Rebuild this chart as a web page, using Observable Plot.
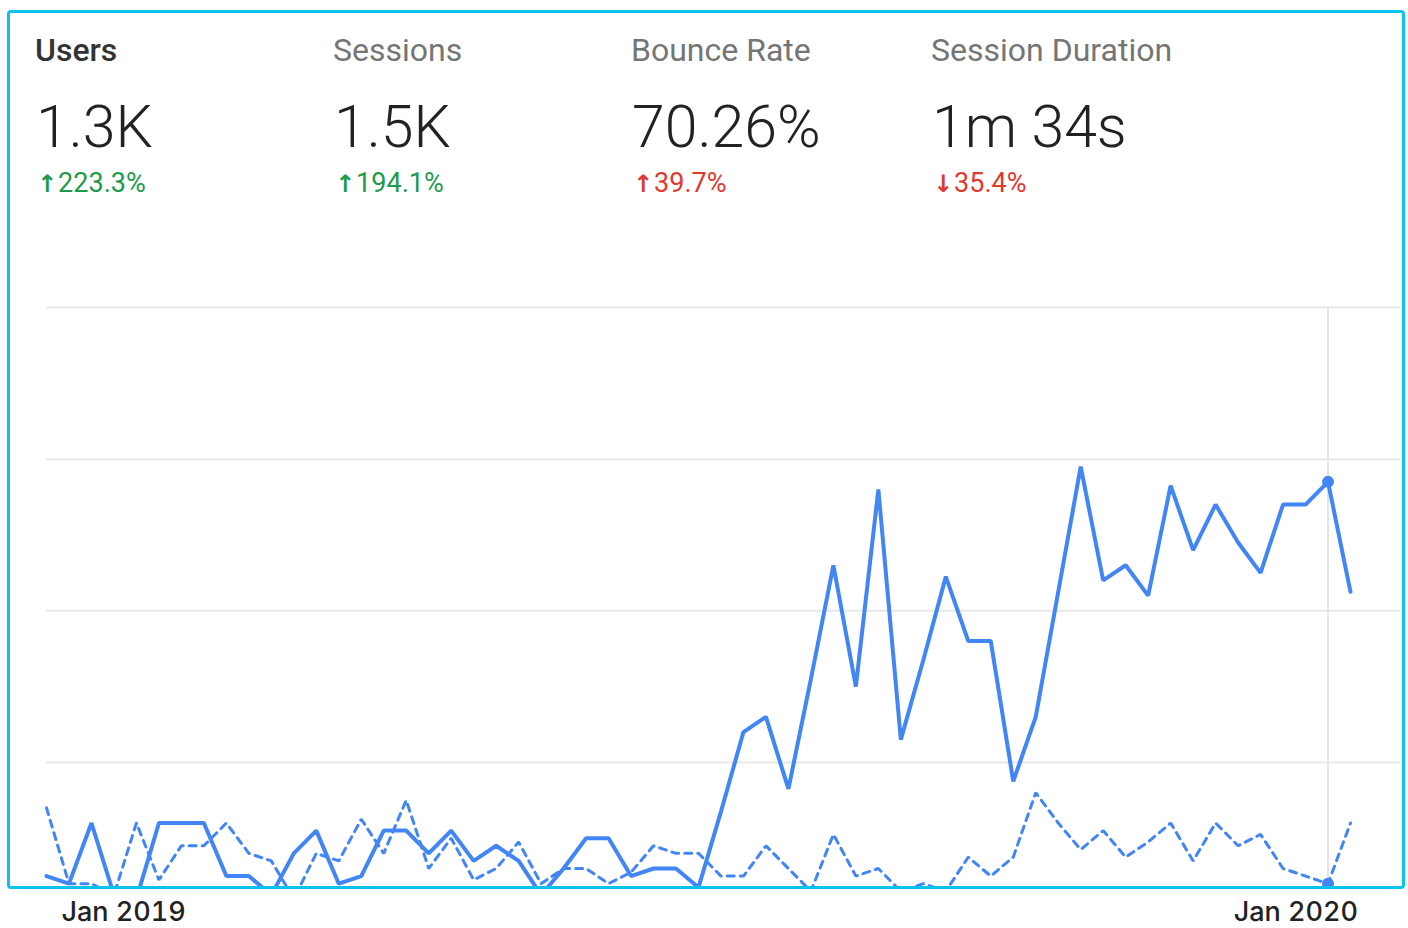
<!DOCTYPE html>
<html>
<head>
<meta charset="utf-8">
<script src="https://cdn.jsdelivr.net/npm/d3@7"></script>
<script src="https://cdn.jsdelivr.net/npm/@observablehq/plot@0.6"></script>
<style>
  html, body { margin: 0; padding: 0; background: #fff; }
  #wrap { position: relative; width: 1408px; height: 928px; overflow: hidden; font-family: Roboto, "Noto Sans", sans-serif; }
  #chart, #axis { position: absolute; left: 0; }
  #chart { top: 0; }
  #axis { top: 886px; }
  .txt { position: absolute; white-space: nowrap; line-height: 1; }
  .label { font-size: 32px; color: #757575; font-weight: 400; }
  .label.active { color: #333; font-weight: 500; }
  .value { font-size: 59px; color: #222; font-weight: 300; }
  .change { font-size: 27px; font-weight: 400; }
  .arrow { font-family: "DejaVu Sans", sans-serif; font-weight: 700; font-size: 24px; margin-right: 1px; }
  #frame { position: absolute; left: 7px; top: 10px; width: 1398px; height: 879px; box-sizing: border-box;
           border: 3px solid #0bc3ec; border-radius: 4px; pointer-events: none; }
</style>
</head>
<body>
<div id="wrap">
  <div id="chart"></div>
  <div id="axis"></div>
  <div id="header"></div>
  <div id="frame"></div>
</div>
<script>
// ---- header metrics ----
const metricNames   = ["Users", "Sessions", "Bounce Rate", "Session Duration"];
const metricValues  = ["1.3K", "1.5K", "70.26%", "1m 34s"];
const metricChanges = ["223.3%", "194.1%", "39.7%", "35.4%"];
const changeArrows  = ["↑", "↑", "↑", "↓"];
const changeGood    = [true, true, false, false];
const activeMetric  = 0;

// ---- weekly series ----
const firstWeek = "2018-12-08";
const users = [10, 8, 24, 5, 4, 24, 24, 24, 10, 10,
               5, 16, 22, 8, 10, 22, 22, 16, 22, 14,
               18, 14, 5, 12, 20, 20, 10, 12, 12, 7,
               27, 48, 52, 33, 62, 92, 60, 112, 46, 67,
               89, 72, 72, 35, 52, 85, 118, 88, 92, 84,
               113, 96, 108, 98, 90, 108, 108, 114, 85];
const usersPrevious = [28, 8, 8, 5, 24, 9, 18, 18, 24, 16,
                       14, 4, 16, 14, 25, 16, 30, 12, 20, 9,
                       12, 19, 8, 12, 12, 8, 11, 18, 16, 16,
                       10, 10, 18, 12, 6, 21, 10, 12, 6, 8,
                       6, 15, 10, 15, 32, 24, 17, 22, 15, 19,
                       24, 14, 24, 18, 21, 12, 10, 8, 24];
const gridValues = [40, 80, 120, 160];
const yMax = 160;
const tickLabels = ["2019-01-01", "2020-01-01"];
const hoverIndex = 57;

// ---- header ----
const header = document.getElementById("header");
const colX = [35, 333, 631, 931];
metricNames.forEach((name, i) => {
  const l = document.createElement("div");
  l.className = "txt label" + (i === activeMetric ? " active" : "");
  l.style.left = colX[i] + "px"; l.style.top = "34px";
  l.textContent = name;
  header.appendChild(l);
  const v = document.createElement("div");
  v.className = "txt value";
  v.style.left = (colX[i] + 1) + "px"; v.style.top = "97px";
  v.textContent = metricValues[i];
  header.appendChild(v);
  const c = document.createElement("div");
  c.className = "txt change";
  c.style.left = (colX[i] + 2) + "px"; c.style.top = "170px";
  c.style.color = changeGood[i] ? "#1e9a4b" : "#e0392e";
  const a = document.createElement("span");
  a.className = "arrow";
  a.textContent = changeArrows[i];
  c.appendChild(a);
  c.appendChild(document.createTextNode(metricChanges[i]));
  header.appendChild(c);
});

// ---- data table ----
const start = new Date(firstWeek + "T00:00:00Z");
const rows = users.map((u, i) => ({
  date: d3.utcDay.offset(start, 7 * i),
  users: u,
  previous: usersPrevious[i]
}));
const xDomain = [rows[0].date, rows[rows.length - 1].date];
const blue = "#4285f4";

const chart = Plot.plot({
  width: 1408,
  height: 888,
  marginLeft: 46,
  marginRight: 58,
  marginTop: 307,
  marginBottom: -25.5,
  x: { type: "utc", domain: xDomain, axis: null },
  y: { domain: [0, yMax], axis: null },
  style: { background: "transparent" },
  marks: [
    Plot.ruleY(gridValues, { stroke: "#e8e8e8", strokeWidth: 2, insetRight: -50 }),
    Plot.ruleX([rows[hoverIndex]], { x: "date", y1: 0, y2: yMax, stroke: "#e4e4e4", strokeWidth: 2 }),
    Plot.line(rows, { x: "date", y: "previous", stroke: blue, strokeWidth: 3, strokeDasharray: "7,6", strokeLinejoin: "miter" }),
    Plot.line(rows, { x: "date", y: "users", stroke: blue, strokeWidth: 4, strokeLinejoin: "miter" }),
    Plot.dot([rows[hoverIndex]], { x: "date", y: "users", r: 6, fill: blue }),
    Plot.dot([rows[hoverIndex]], { x: "date", y: "previous", r: 6, fill: blue })
  ]
});
document.getElementById("chart").appendChild(chart);

const tickDates = tickLabels.map(s => new Date(s + "T00:00:00Z"));
const axis = Plot.plot({
  width: 1408,
  height: 42,
  marginLeft: 46,
  marginRight: 58,
  marginTop: 0,
  marginBottom: 42,
  x: { type: "utc", domain: xDomain, label: null },
  style: { background: "transparent", fontFamily: "Inter, Lato, sans-serif" },
  marks: [
    Plot.axisX(tickDates, {
      anchor: "bottom", tickSize: 0, tickPadding: 15,
      tickFormat: d3.utcFormat("%b %Y"),
      fontSize: 27, fontWeight: 500, fill: "#222"
    })
  ]
});
document.getElementById("axis").appendChild(axis);
</script>
</body>
</html>
